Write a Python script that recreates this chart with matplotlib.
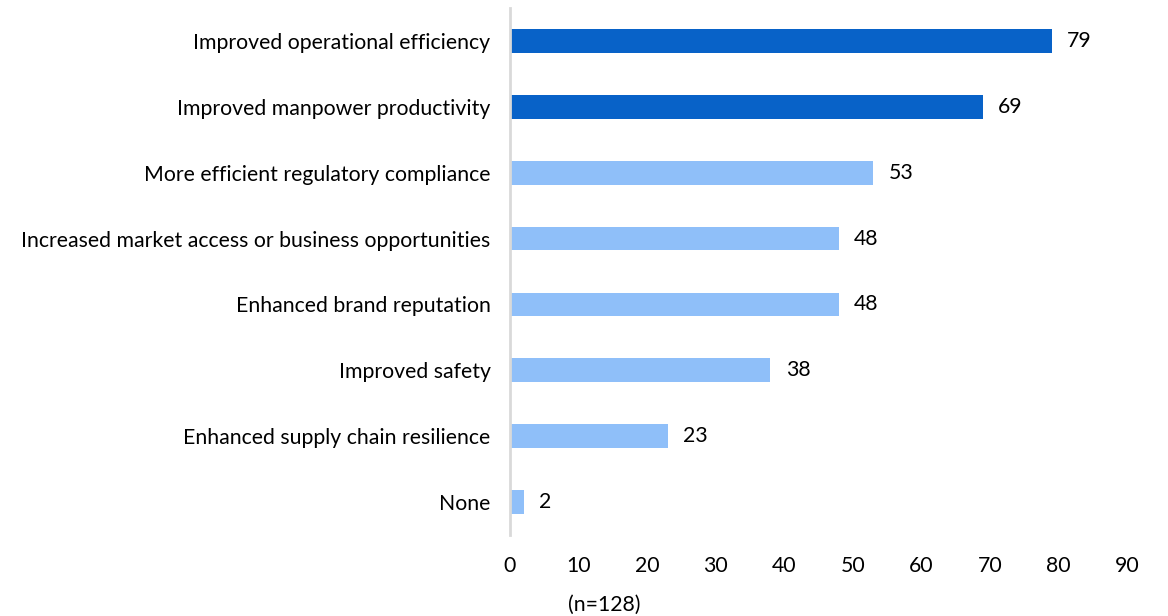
import matplotlib.pyplot as plt

# survey results, top to bottom
benefits = [
    "Improved operational efficiency",
    "Improved manpower productivity",
    "More efficient regulatory compliance",
    "Increased market access or business opportunities",
    "Enhanced brand reputation",
    "Improved safety",
    "Enhanced supply chain resilience",
    "None",
]
counts = [79, 69, 53, 48, 48, 38, 23, 2]
highlight = [True, True, False, False, False, False, False, False]
x_ticks = [0, 10, 20, 30, 40, 50, 60, 70, 80, 90]

dark_blue = "#0862C8"
light_blue = "#8FBFF9"
fs = 15.3

plt.rcParams['font.family'] = ['Lato', 'DejaVu Sans']

fig = plt.figure(figsize=(11.68, 6.16), dpi=100)
ax = fig.add_axes([0.4366, 0.1315, 0.5283, 0.8555])

ypos = list(range(len(benefits)))[::-1]
colors = [dark_blue if h else light_blue for h in highlight]
ax.barh(ypos, counts, height=0.36, color=colors)

for y, v in zip(ypos, counts):
    ax.text(v + 2.2, y, str(v), va="center", ha="left", fontsize=fs)

ax.set_yticks(ypos)
ax.set_yticklabels(benefits, fontsize=fs)
ax.set_xticks(x_ticks)
ax.set_xticklabels([str(t) for t in x_ticks], fontsize=fs)
ax.set_xlim(0, 90)
ax.set_ylim(-0.5, len(benefits) - 0.5)

ax.tick_params(axis="y", length=0, pad=14)
ax.tick_params(axis="x", length=0, pad=15)
for side in ["top", "right", "bottom"]:
    ax.spines[side].set_visible(False)
ax.spines["left"].set_color("#d9d9d9")
ax.spines["left"].set_linewidth(2)

fig.text(0.517, 0.008, "(n=128)", ha="center", fontsize=fs)

fig.savefig("out.png", dpi=100)
